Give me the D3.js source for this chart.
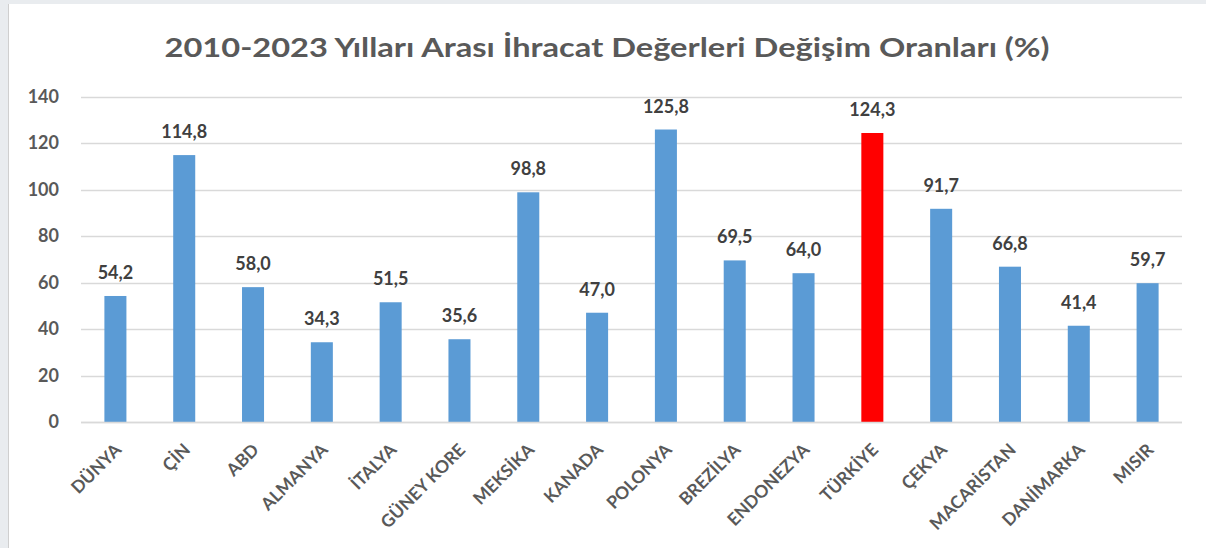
<!DOCTYPE html>
<html><head><meta charset="utf-8">
<script src="https://cdn.jsdelivr.net/npm/d3@7"></script>
<style>body{margin:0;background:#fff;}svg{display:block;}</style>
</head><body>
<svg id="c" width="1206" height="548"></svg>
<script>
const categories = ["DÜNYA","ÇİN","ABD","ALMANYA","İTALYA","GÜNEY KORE","MEKSİKA","KANADA","POLONYA","BREZİLYA","ENDONEZYA","TÜRKİYE","ÇEKYA","MACARİSTAN","DANİMARKA","MISIR"];
const values = [54.2,114.8,58.0,34.3,51.5,35.6,98.8,47.0,125.8,69.5,64.0,124.3,91.7,66.8,41.4,59.7];
const highlight = ["TÜRKİYE"];
const yTicks = [0,20,40,60,80,100,120,140];
const title = "2010-2023 Yılları Arası İhracat Değerleri Değişim Oranları (%)";

const svg = d3.select("#c");
const W = 1206, H = 548;
const m = {left:81, right:24, top:96.5, bottom:126};
const font = "Lato, 'Open Sans', sans-serif";

svg.append("rect").attr("width",W).attr("height",H).attr("fill","#e9ecef");
svg.append("rect").attr("x",9).attr("y",4).attr("width",W-9).attr("height",H-4).attr("fill","#fff");
svg.append("line").attr("x1",8.5).attr("x2",8.5).attr("y1",4).attr("y2",H).attr("stroke","#cfcfcf");

const x = d3.scaleBand().domain(categories).range([m.left, W-m.right]).paddingInner(0.68).paddingOuter(0.34);
const y = d3.scaleLinear().domain([0,140]).range([H-m.bottom, m.top]);

// gridlines
svg.append("g").selectAll("line").data(yTicks).join("line")
  .attr("x1", m.left).attr("x2", W-m.right)
  .attr("y1", d=>Math.round(y(d))+0.5).attr("y2", d=>Math.round(y(d))+0.5)
  .attr("stroke","#d9d9d9").attr("stroke-width",1.3);

// y axis labels
const yAxis = d3.axisLeft(y).tickValues(yTicks).tickSize(0).tickPadding(0);
const ga = svg.append("g").attr("transform",`translate(59,0)`).call(yAxis);
ga.select(".domain").remove();
ga.selectAll("text").attr("font-family",font).attr("font-weight","bold").attr("font-size",18).attr("fill","#595959");

// bars
svg.append("g").selectAll("rect").data(categories).join("rect")
  .attr("x", d=>x(d)).attr("width", x.bandwidth())
  .attr("y", (d,i)=>y(values[i])).attr("height",(d,i)=>y(0)-y(values[i]))
  .attr("fill", d=>highlight.includes(d)?"#FF0000":"#5B9BD5");

// x axis baseline
svg.append("line").attr("x1",m.left).attr("x2",W-m.right)
  .attr("y1",Math.round(y(0))+0.5).attr("y2",Math.round(y(0))+0.5)
  .attr("stroke","#d9d9d9").attr("stroke-width",1.5);

// value labels
const fmt = v => d3.format(".1f")(v).replace(".",",");
svg.append("g").selectAll("text").data(categories).join("text")
  .attr("x", d=>x(d)+x.bandwidth()/2)
  .attr("y", (d,i)=>y(values[i])-17)
  .attr("text-anchor","middle")
  .attr("font-family",font).attr("font-weight","bold").attr("font-size",18).attr("fill","#404040")
  .text((d,i)=>fmt(values[i]));

// x labels
const xAxis = d3.axisBottom(x).tickSize(0).tickPadding(0);
const gx = svg.append("g").attr("transform",`translate(0,${y(0)})`).call(xAxis);
gx.select(".domain").remove();
gx.selectAll("text")
  .attr("font-family",font).attr("font-weight","bold").attr("font-size",17.5).attr("fill","#595959")
  .attr("text-anchor","end").attr("dy",null).attr("y",null)
  .attr("transform","translate(7,29) rotate(-45)");

// title
svg.append("text").attr("x",607).attr("y",57).attr("text-anchor","middle")
  .attr("font-family",font).attr("font-weight","bold").attr("font-size",26).attr("fill","#595959")
  .attr("textLength",885).attr("lengthAdjust","spacingAndGlyphs")
  .text(title);
</script>
</body></html>
